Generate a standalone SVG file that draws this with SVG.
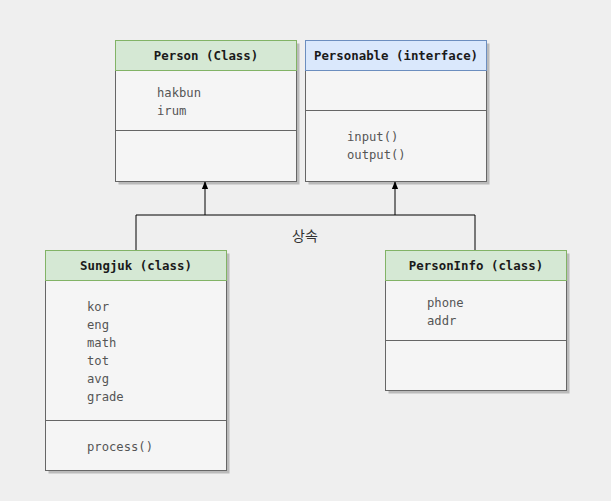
<svg xmlns="http://www.w3.org/2000/svg" width="611" height="501" viewBox="0 0 611 501">
<defs>
<style>
.sh{fill:#000;opacity:0.22}
.body{fill:#f5f5f5;stroke:#666666;stroke-width:1}
.hg{fill:#d5e8d4;stroke:#82b366;stroke-width:1}
.hb{fill:#dae8fc;stroke:#6c8ebf;stroke-width:1}
.div{stroke:#666666;stroke-width:1}
.title{font-family:"DejaVu Sans Mono","Liberation Mono",monospace;font-size:12.4px;font-weight:bold;fill:#1a1a1a;text-anchor:middle}
.attr{font-family:"DejaVu Sans Mono","Liberation Mono",monospace;font-size:12.2px;fill:#555555}
.lbl{font-family:"Noto Sans CJK KR",sans-serif;font-size:14px;fill:#333333;text-anchor:middle}
.edge{fill:none;stroke:#000;stroke-width:1}
</style>
<marker id="arr" viewBox="0 0 10 10" refX="9" refY="5" markerWidth="8" markerHeight="8" orient="auto" markerUnits="userSpaceOnUse">
<path d="M0,1 L10,5 L0,9 Z" fill="#000"/>
</marker>
</defs>
<rect width="611" height="501" fill="#efefef"/>
<g id="connectors">
<path class="edge" d="M136,250 V215 H475 V250"/>
<path class="edge" d="M205,215 V182" marker-end="url(#arr)"/>
<path class="edge" d="M395,215 V182" marker-end="url(#arr)"/>
<text class="lbl" x="305" y="241">상속</text>
</g>
<g id="person">
<rect class="sh" x="118.5" y="43.5" width="181" height="141"/>
<rect class="body" x="115.5" y="40.5" width="181" height="141"/>
<rect class="hg" x="115.5" y="40.5" width="181" height="30"/>
<line class="div" x1="115.5" y1="130.5" x2="296.5" y2="130.5"/>
<text class="title" x="206" y="60">Person (Class)</text>
<text class="attr" x="157" y="97">hakbun</text>
<text class="attr" x="157" y="115">irum</text>
</g>
<g id="personable">
<rect class="sh" x="308.5" y="43.5" width="181" height="141"/>
<rect class="body" x="305.5" y="40.5" width="181" height="141"/>
<rect class="hb" x="305.5" y="40.5" width="181" height="30"/>
<line class="div" x1="305.5" y1="110.5" x2="486.5" y2="110.5"/>
<text class="title" x="396" y="60">Personable (interface)</text>
<text class="attr" x="347" y="141">input()</text>
<text class="attr" x="347" y="159">output()</text>
</g>
<g id="sungjuk">
<rect class="sh" x="48.5" y="253.5" width="181" height="220"/>
<rect class="body" x="45.5" y="250.5" width="181" height="220"/>
<rect class="hg" x="45.5" y="250.5" width="181" height="30"/>
<line class="div" x1="45.5" y1="420.5" x2="226.5" y2="420.5"/>
<text class="title" x="136" y="270">Sungjuk (class)</text>
<text class="attr" x="87" y="311">kor</text>
<text class="attr" x="87" y="329">eng</text>
<text class="attr" x="87" y="347">math</text>
<text class="attr" x="87" y="365">tot</text>
<text class="attr" x="87" y="383">avg</text>
<text class="attr" x="87" y="401">grade</text>
<text class="attr" x="87" y="451">process()</text>
</g>
<g id="personinfo">
<rect class="sh" x="388.5" y="253.5" width="181" height="140"/>
<rect class="body" x="385.5" y="250.5" width="181" height="140"/>
<rect class="hg" x="385.5" y="250.5" width="181" height="30"/>
<line class="div" x1="385.5" y1="340.5" x2="566.5" y2="340.5"/>
<text class="title" x="476" y="270">PersonInfo (class)</text>
<text class="attr" x="427" y="307">phone</text>
<text class="attr" x="427" y="325">addr</text>
</g>
</svg>
